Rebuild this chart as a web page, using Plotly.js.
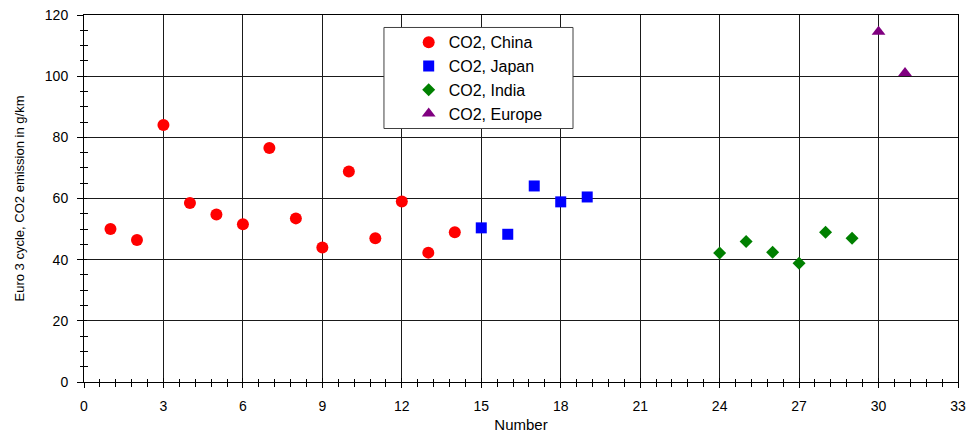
<!DOCTYPE html>
<html>
<head>
<meta charset="utf-8">
<script src="https://cdn.plot.ly/plotly-3.0.1.min.js"></script>
<style>html,body{margin:0;padding:0;background:#fff;}#chart{width:971px;height:440px;}</style>
</head>
<body>
<div id="chart"></div>
<script>
// ---- data ----
const chinaX = [1, 2, 3, 4, 5, 6, 7, 8, 9, 10, 11, 12, 13, 14];
const chinaY = [50.0, 46.4, 84.0, 58.5, 54.8, 51.6, 76.5, 53.5, 44.0, 68.8, 47.0, 59.0, 42.3, 49.0];
const japanX = [15, 16, 17, 18, 19];
const japanY = [50.4, 48.3, 64.1, 58.9, 60.5];
const indiaX = [24, 25, 26, 27, 28, 29];
const indiaY = [42.2, 45.9, 42.4, 38.8, 49.0, 47.0];
const europeX = [30, 31];
const europeY = [114.5, 101.0];
const seriesNames = ["CO2, China", "CO2, Japan", "CO2, India", "CO2, Europe"];
const xTitle = "Number";
const yTitle = "Euro 3 cycle, CO2 emission in g/km";

const FONT = "Liberation Sans, Arial, sans-serif";

function sc(x, y, name, symbol, color, size) {
  return {
    type: "scatter", mode: "markers", x: x, y: y, name: name,
    marker: { symbol: symbol, color: color, size: size, line: { width: 0 } },
    xaxis: "x", yaxis: "y"
  };
}

const traces = [
  sc(chinaX, chinaY, seriesNames[0], "circle", "#FF0000", 12),
  sc(japanX, japanY, seriesNames[1], "square", "#0000FF", 11),
  sc(indiaX, indiaY, seriesNames[2], "diamond", "#008000", 10),
  sc(europeX, europeY, seriesNames[3], "triangle-up", "#800080", 12),
  { type: "scatter", mode: "markers", x: [], y: [], xaxis: "x2", yaxis: "y2", showlegend: false, hoverinfo: "skip" }
];

const layout = {
  width: 971, height: 440,
  margin: { l: 84, r: 13, t: 15, b: 58 },
  paper_bgcolor: "#ffffff", plot_bgcolor: "#ffffff",
  font: { family: FONT, color: "#000", size: 14 },
  showlegend: true,
  xaxis: {
    range: [0, 33], dtick: 3, tick0: 0,
    showgrid: true, gridcolor: "#1a1a1a", gridwidth: 1,
    zeroline: false,
    showline: true, linecolor: "#000", linewidth: 1, mirror: true,
    ticks: "outside", ticklen: 5, tickcolor: "#000",
    minor: { dtick: 0.6, tick0: 0, ticks: "outside", ticklen: 4, tickcolor: "#000", showgrid: false },
    tickfont: { family: FONT, size: 14, color: "#000" },
    ticklabelstandoff: 6,
    title: { text: xTitle, font: { family: FONT, size: 15, color: "#000" }, standoff: 6 }
  },
  yaxis: {
    range: [0, 120], dtick: 20, tick0: 0,
    showgrid: true, gridcolor: "#1a1a1a", gridwidth: 1,
    zeroline: false,
    showline: true, linecolor: "#000", linewidth: 1, mirror: true,
    ticks: "outside", ticklen: 6, tickcolor: "#000",
    minor: { dtick: 5, tick0: 0, ticks: "outside", ticklen: 3, tickcolor: "#000", showgrid: false },
    tickfont: { family: FONT, size: 14, color: "#000" },
    ticklabelstandoff: 6,
    title: { text: yTitle, font: { family: FONT, size: 13, color: "#000" }, standoff: 17 }
  },
  xaxis2: {
    overlaying: "x", anchor: "y2", range: [0, 33], dtick: 3, tick0: 0,
    showgrid: false, zeroline: false, showline: false, showticklabels: false,
    ticks: "inside", ticklen: 4, tickcolor: "#000",
    minor: { dtick: 0.6, tick0: 0, ticks: "inside", ticklen: 3, tickcolor: "#000", showgrid: false }
  },
  yaxis2: {
    overlaying: "y", anchor: "x2", side: "left", range: [0, 120], dtick: 20, tick0: 0,
    showgrid: false, zeroline: false, showline: false, showticklabels: false,
    ticks: "inside", ticklen: 3, tickcolor: "#000",
    minor: { dtick: 5, tick0: 0, ticks: "inside", ticklen: 4, tickcolor: "#000", showgrid: false }
  },
  legend: {
    x: 0.3715, xanchor: "left", y: 0.972, yanchor: "top",
    bgcolor: "rgba(0,0,0,0)", borderwidth: 0,
    font: { family: FONT, size: 16, color: "#000" },
    traceorder: "normal"
  },
  shapes: [{
    type: "rect", xref: "paper", yref: "paper", layer: "above",
    x0: 0.3432, x1: 0.5595, y0: 0.6907, y1: 0.966,
    fillcolor: "#ffffff", line: { color: "#404040", width: 1 }
  }]
};

Plotly.newPlot("chart", traces, layout, { displayModeBar: false, staticPlot: true });
</script>
</body>
</html>
